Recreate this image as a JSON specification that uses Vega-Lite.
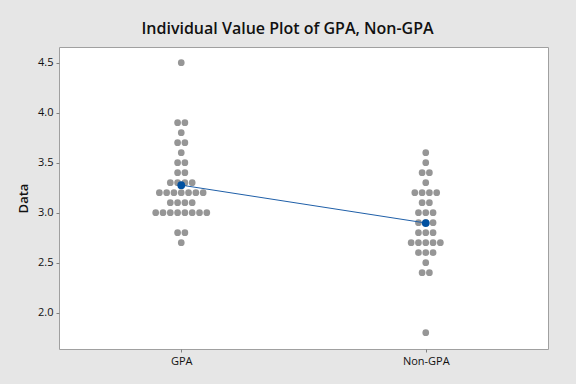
{
  "$schema": "https://vega.github.io/schema/vega-lite/v6.json",
  "width": 489,
  "height": 302,
  "autosize": "none",
  "padding": {"left": 59, "top": 47, "right": 28, "bottom": 35},
  "background": "#e6e6e6",
  "config": {
    "view": {"fill": "white", "stroke": "#a0a0a0", "strokeWidth": 1},
    "font": "Open Sans",
    "axis": {"grid": false, "domain": false, "tickColor": "#808080", "tickSize": 3, "labelFontSize": 11, "labelColor": "#111111", "labelFont": "Open Sans", "titleFont": "Open Sans"}
  },
  "title": {"text": "Individual Value Plot of GPA, Non-GPA", "fontSize": 16, "fontWeight": 600, "font": "Open Sans", "color": "#111111", "anchor": "middle", "frame": "group", "dx": -16, "offset": 10},
  "data": {"values": [
    {"g": "GPA", "v": 4.5},
    {"g": "GPA", "v": 3.9}, {"g": "GPA", "v": 3.9},
    {"g": "GPA", "v": 3.8},
    {"g": "GPA", "v": 3.7}, {"g": "GPA", "v": 3.7},
    {"g": "GPA", "v": 3.6},
    {"g": "GPA", "v": 3.5}, {"g": "GPA", "v": 3.5},
    {"g": "GPA", "v": 3.4}, {"g": "GPA", "v": 3.4},
    {"g": "GPA", "v": 3.3}, {"g": "GPA", "v": 3.3}, {"g": "GPA", "v": 3.3}, {"g": "GPA", "v": 3.3},
    {"g": "GPA", "v": 3.2}, {"g": "GPA", "v": 3.2}, {"g": "GPA", "v": 3.2}, {"g": "GPA", "v": 3.2}, {"g": "GPA", "v": 3.2}, {"g": "GPA", "v": 3.2}, {"g": "GPA", "v": 3.2},
    {"g": "GPA", "v": 3.1}, {"g": "GPA", "v": 3.1}, {"g": "GPA", "v": 3.1}, {"g": "GPA", "v": 3.1},
    {"g": "GPA", "v": 3.0}, {"g": "GPA", "v": 3.0}, {"g": "GPA", "v": 3.0}, {"g": "GPA", "v": 3.0}, {"g": "GPA", "v": 3.0}, {"g": "GPA", "v": 3.0}, {"g": "GPA", "v": 3.0}, {"g": "GPA", "v": 3.0},
    {"g": "GPA", "v": 2.8}, {"g": "GPA", "v": 2.8},
    {"g": "GPA", "v": 2.7},
    {"g": "Non-GPA", "v": 3.6},
    {"g": "Non-GPA", "v": 3.5},
    {"g": "Non-GPA", "v": 3.4}, {"g": "Non-GPA", "v": 3.4},
    {"g": "Non-GPA", "v": 3.3},
    {"g": "Non-GPA", "v": 3.2}, {"g": "Non-GPA", "v": 3.2}, {"g": "Non-GPA", "v": 3.2}, {"g": "Non-GPA", "v": 3.2},
    {"g": "Non-GPA", "v": 3.1}, {"g": "Non-GPA", "v": 3.1},
    {"g": "Non-GPA", "v": 3.0}, {"g": "Non-GPA", "v": 3.0}, {"g": "Non-GPA", "v": 3.0},
    {"g": "Non-GPA", "v": 2.9}, {"g": "Non-GPA", "v": 2.9}, {"g": "Non-GPA", "v": 2.9},
    {"g": "Non-GPA", "v": 2.8}, {"g": "Non-GPA", "v": 2.8}, {"g": "Non-GPA", "v": 2.8},
    {"g": "Non-GPA", "v": 2.7}, {"g": "Non-GPA", "v": 2.7}, {"g": "Non-GPA", "v": 2.7}, {"g": "Non-GPA", "v": 2.7}, {"g": "Non-GPA", "v": 2.7},
    {"g": "Non-GPA", "v": 2.6}, {"g": "Non-GPA", "v": 2.6}, {"g": "Non-GPA", "v": 2.6},
    {"g": "Non-GPA", "v": 2.5},
    {"g": "Non-GPA", "v": 2.4}, {"g": "Non-GPA", "v": 2.4},
    {"g": "Non-GPA", "v": 1.8}
  ]},
  "encoding": {
    "x": {"field": "g", "type": "nominal", "scale": {"type": "point", "padding": 0.5}, "axis": {"title": null, "labelAngle": 0, "labelPadding": 3}},
    "y": {"type": "quantitative", "scale": {"domain": [1.637, 4.657], "nice": false, "zero": false}, "axis": {"title": "Data", "titleFontSize": 13, "titleFontWeight": 600, "titleColor": "#111111", "values": [2.0, 2.5, 3.0, 3.5, 4.0, 4.5], "format": ".1f", "labelPadding": 3, "titlePadding": 7}}
  },
  "layer": [
    {
      "transform": [
        {"window": [{"op": "row_number", "as": "k"}, {"op": "count", "as": "n"}], "groupby": ["g", "v"], "frame": [null, null]},
        {"calculate": "datum.k - (datum.n + 1) / 2", "as": "off"}
      ],
      "mark": {"type": "circle", "size": 45, "color": "#969696", "opacity": 1},
      "encoding": {
        "y": {"field": "v", "type": "quantitative"},
        "xOffset": {"field": "off", "type": "quantitative", "scale": {"domain": [-10, 10], "range": [-73, 73]}}
      }
    },
    {
      "mark": {"type": "line", "color": "#1f5fa8", "strokeWidth": 1},
      "encoding": {"y": {"aggregate": "mean", "field": "v", "type": "quantitative"}}
    },
    {
      "mark": {"type": "circle", "size": 60, "color": "#0050a0", "opacity": 1},
      "encoding": {"y": {"aggregate": "mean", "field": "v", "type": "quantitative"}}
    }
  ]
}
